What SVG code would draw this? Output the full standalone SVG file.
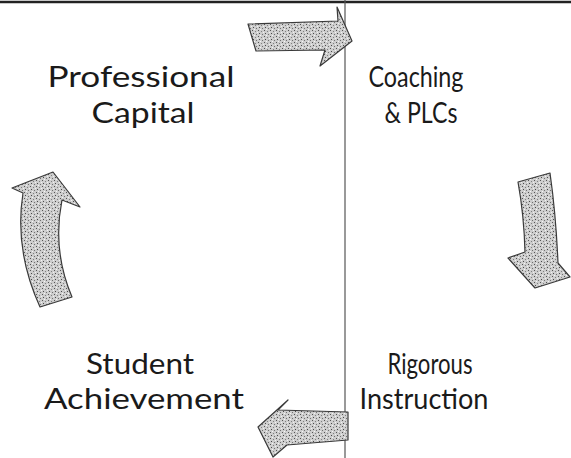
<svg xmlns="http://www.w3.org/2000/svg" width="571" height="458" viewBox="0 0 571 458">
<defs>
<pattern id="tex" width="6" height="6" patternUnits="userSpaceOnUse">
<rect width="6" height="6" fill="#cdcdcd"/>
<rect x="0" y="0" width="1" height="1" fill="#555"/>
<rect x="3" y="1" width="1" height="1" fill="#808080"/>
<rect x="1" y="3" width="1" height="1" fill="#4a4a4a"/>
<rect x="4" y="4" width="1" height="1" fill="#707070"/>
<rect x="5" y="2" width="1" height="1" fill="#f2f2f2"/>
<rect x="2" y="5" width="1" height="1" fill="#f6f6f6"/>
</pattern>
<style>
.lbl{font-family:Lato,"Open Sans","Liberation Sans",sans-serif;font-size:29px;fill:#1a1a1a;text-anchor:middle}
.arw{fill:url(#tex);stroke:#3a3a3a;stroke-width:1.2;stroke-linejoin:round}
</style>
</defs>
<rect width="571" height="458" fill="#fff"/>
<line x1="0" y1="2" x2="571" y2="2" stroke="#222" stroke-width="2.5"/>
<line x1="345" y1="0" x2="345" y2="458" stroke="#555" stroke-width="1.2"/>

<g id="node-professional-capital">
<text class="lbl"><tspan x="141" y="87" textLength="187" lengthAdjust="spacingAndGlyphs">Professional</tspan><tspan x="143" y="123" textLength="103" lengthAdjust="spacingAndGlyphs">Capital</tspan></text>
</g>
<g id="node-coaching-plcs">
<text class="lbl"><tspan x="416" y="87" textLength="95" lengthAdjust="spacingAndGlyphs">Coaching</tspan><tspan x="421" y="123" textLength="73" lengthAdjust="spacingAndGlyphs">&amp; PLCs</tspan></text>
</g>
<g id="node-rigorous-instruction">
<text class="lbl"><tspan x="430" y="374" textLength="85" lengthAdjust="spacingAndGlyphs">Rigorous</tspan><tspan x="424" y="409" textLength="129" lengthAdjust="spacingAndGlyphs">Instruction</tspan></text>
</g>
<g id="node-student-achievement">
<text class="lbl"><tspan x="140" y="374" textLength="108" lengthAdjust="spacingAndGlyphs">Student</tspan><tspan x="144" y="409" textLength="200" lengthAdjust="spacingAndGlyphs">Achievement</tspan></text>
</g>

<g id="connectors">
<path class="arw" d="M248,24 L338,21 L337,7 L352,41 L320,66 L325,50 L256,51 Z"/>
<path class="arw" d="M518,182 L550,173 Q556,215 558,263 L570,277 L535,288 L508,258 L525,252 Q524,215 518,182 Z"/>
<path class="arw" d="M53,172 L80,207 L62,200 Q52,250 72,297 L40,307 Q14,250 23,193 L12,188 Z"/>
<path class="arw" d="M258,427 L288,400 L278,410 L348,412 L348,440 L287,445 L273,457 Z"/>
</g>
</svg>
